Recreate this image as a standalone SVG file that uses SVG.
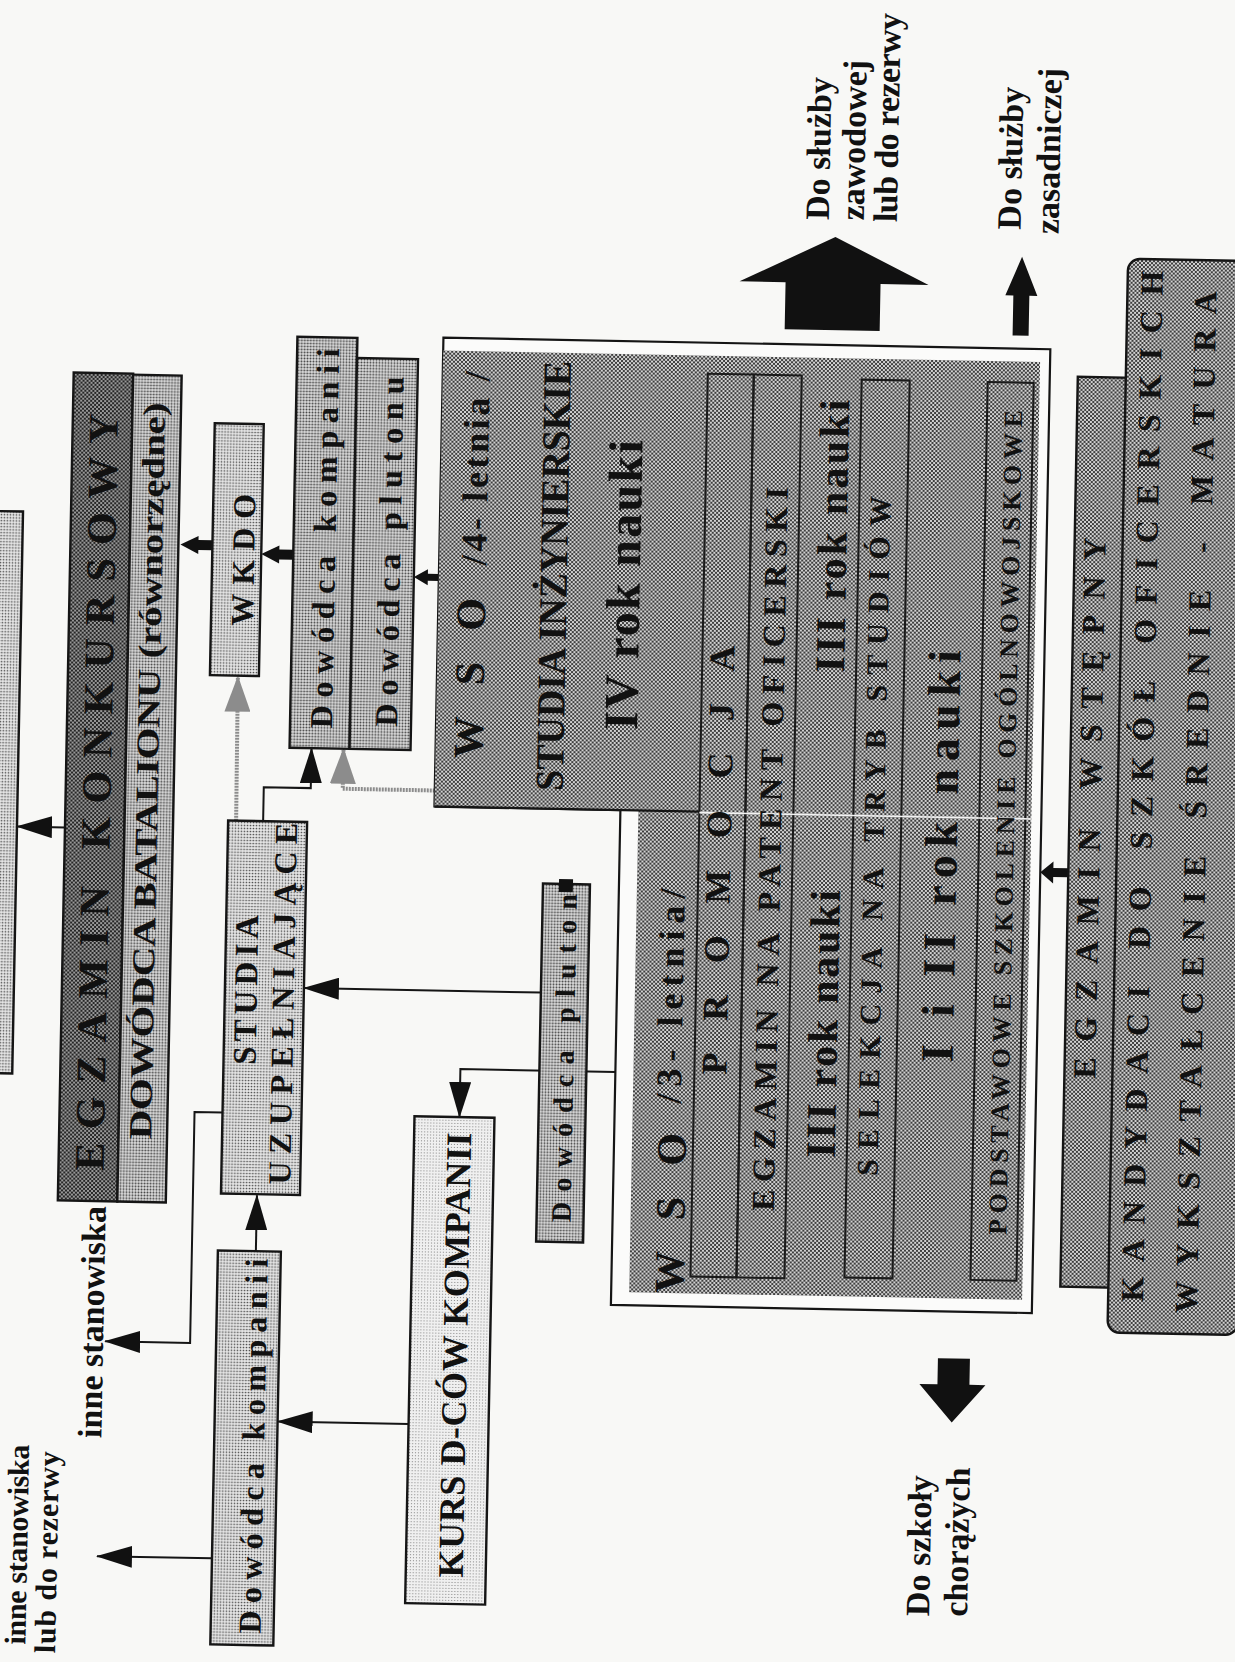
<svg xmlns="http://www.w3.org/2000/svg" width="1235" height="1662" viewBox="0 0 1235 1662">
<style>
  text { font-family: "Liberation Serif", "Times New Roman", serif; font-weight: bold; fill: #111; }
  .box { stroke: #151515; stroke-width: 2.4; }
  .line { fill: none; stroke: #151515; stroke-width: 2; }
  .gline { fill: none; stroke: #8c8c8c; stroke-width: 4; stroke-dasharray: 2 1; }
  .solid { fill: #111; }
  .inner { fill: none; stroke: #1a1a1a; stroke-width: 2; }
</style>
<defs>
  <!-- halftone-like fills -->
  <pattern id="htDark" width="4" height="4" patternUnits="userSpaceOnUse">
    <rect width="4" height="4" fill="#989898"/>
    <rect width="2" height="2" fill="#262626"/>
    <rect x="2" y="2" width="2" height="2" fill="#262626"/>
  </pattern>
  <pattern id="htMid" width="4" height="4" patternUnits="userSpaceOnUse">
    <rect width="4" height="4" fill="#d2d2d2"/>
    <rect width="2" height="2" fill="#3e3e3e"/>
    <rect x="2" y="2" width="2" height="2" fill="#3e3e3e"/>
  </pattern>
  <pattern id="htSemi" width="3" height="3" patternUnits="userSpaceOnUse">
    <rect width="3" height="3" fill="#dedede"/>
    <circle cx="1.5" cy="1.5" r="1" fill="#444"/>
  </pattern>
  <pattern id="htLight" width="3" height="3" patternUnits="userSpaceOnUse">
    <rect width="3" height="3" fill="#e6e6e6"/>
    <circle cx="1.5" cy="1.5" r="0.85" fill="#4a4a4a"/>
  </pattern>
  <pattern id="htPale" width="3" height="3" patternUnits="userSpaceOnUse">
    <rect width="3" height="3" fill="#f0f0f0"/>
    <circle cx="1.5" cy="1.5" r="0.6" fill="#777"/>
  </pattern>
  <marker id="ah" markerUnits="userSpaceOnUse" markerWidth="36" markerHeight="22" refX="35" refY="11" orient="auto">
    <path d="M0,0 L36,11 L0,22 z" fill="#111"/>
  </marker>
  <marker id="ahGray" markerUnits="userSpaceOnUse" markerWidth="36" markerHeight="26" refX="35" refY="13" orient="auto">
    <path d="M0,0 L36,13 L0,26 z" fill="#8c8c8c"/>
  </marker>
</defs>

<rect width="1235" height="1662" fill="#f8f8f6"/>

<g id="sheet" transform="rotate(1.1 617 831)">

  <!-- connectors -->
  <g id="connectors">
    <polyline class="line" points="65,838 17,838" marker-end="url(#ah)"/>
    <polyline class="gline" points="236,828 235,684" marker-end="url(#ahGray)"/>
    <polyline class="line" points="263,828 263,794 310,794 310,754" marker-end="url(#ah)"/>
    <polyline class="gline" points="434,794 342,794 342,754" marker-end="url(#ahGray)"/>
    <polyline class="line" points="544,994 307,994" marker-end="url(#ah)"/>
    <polyline class="line" points="620,1072 465,1072 465,1120" marker-end="url(#ah)"/>
    <polyline class="line" points="228,1120 200,1120 200,1351 115,1351" marker-end="url(#ah)"/>
    <polyline class="line" points="264,1258 264,1202" marker-end="url(#ah)"/>
    <polyline class="line" points="420,1428 289,1428" marker-end="url(#ah)"/>
    <polyline class="line" points="226,1566 111,1566" marker-end="url(#ah)"/>
    <!-- short block arrows -->
    <polygon class="solid" points="175,553 193,544 193,548 207,548 207,558 193,558 193,562"/>
    <polygon class="solid" points="256,561 274,552 274,556 288,556 288,566 274,566 274,570"/>
    <polygon class="solid" points="409,581 423,573 423,577.5 434,577.5 434,584.5 423,584.5 423,589"/>
    <polygon class="solid" points="1041,864 1054,853 1054,859.5 1069,859.5 1069,868.5 1054,868.5 1054,875"/>
    <!-- exits -->
    <polygon class="solid" points="824,233 918,279 870,279 870,326 775,326 775,279 729,279"/>
    <polygon class="solid" points="1011,249 1027,288 1019,288 1019,328 1003,328 1003,288 995,288"/>
    <polygon class="solid" points="963,1416 996,1378 980,1378 980,1352 948,1352 948,1378 930,1378"/>
  </g>

  <!-- academy box cut by the page edge -->
  <g id="node-akademia">
    <rect class="box" x="-60" y="523" width="77" height="562" fill="url(#htLight)"/>
  </g>

  <g id="node-egzamin-konkursowy">
    <rect class="box" x="65" y="383" width="59.5" height="828" fill="url(#htDark)"/>
    <text x="110" y="802" transform="rotate(-90 110 802)" text-anchor="middle" font-size="42" textLength="757" lengthAdjust="spacing">EGZAMIN KONKURSOWY</text>
  </g>

  <g id="node-dowodca-batalionu">
    <rect class="box" x="124.5" y="384" width="48.5" height="827" fill="url(#htSemi)"/>
    <text x="157" y="780" transform="rotate(-90 157 780)" text-anchor="middle" font-size="32" textLength="737" lengthAdjust="spacingAndGlyphs">DOWÓDCA BATALIONU (równorzędne)</text>
  </g>

  <g id="node-wkdo">
    <rect class="box" x="207" y="431" width="49" height="252" fill="url(#htLight)"/>
    <text x="249" y="567" transform="rotate(-90 249 567)" text-anchor="middle" font-size="32" textLength="132" lengthAdjust="spacing">WKDO</text>
  </g>

  <g id="node-dowodca-kompanii-1">
    <rect class="box" x="288" y="343" width="60" height="411" fill="url(#htSemi)"/>
    <text x="330" y="544" transform="rotate(-90 330 544)" text-anchor="middle" font-size="32" textLength="380" lengthAdjust="spacing">Dowódca kompanii</text>
  </g>

  <g id="node-dowodca-plutonu-1">
    <rect class="box" x="348" y="363" width="61" height="391" fill="url(#htSemi)"/>
    <text x="395" y="556" transform="rotate(-90 395 556)" text-anchor="middle" font-size="32" textLength="350" lengthAdjust="spacing">Dowódca plutonu</text>
  </g>

  <g id="node-wso">
    <polygon points="434,341 1041,341 1041,1305 620,1305 620,810 434,810" fill="#fbfbfa" stroke="#151515" stroke-width="2.2"/>
    <rect x="434" y="354" width="597" height="456" fill="url(#htMid)"/>
    <rect x="638" y="810" width="393" height="482" fill="url(#htMid)"/>
    <line x1="434" y1="810" x2="699" y2="810" stroke="#151515" stroke-width="2.4"/>
    <rect class="inner" x="699" y="372" width="46" height="903"/>
    <rect class="inner" x="745" y="372" width="48" height="903"/>
    <rect class="inner" x="853" y="375" width="48" height="898"/>
    <rect class="inner" x="979" y="375" width="46" height="898"/>
    <line x1="699" y1="811" x2="1031" y2="811" stroke="#f4f4f4" stroke-width="1.6"/>

    <text x="481" y="681" transform="rotate(-90 481 681)" text-anchor="middle" font-size="42" textLength="160" lengthAdjust="spacing">WSO</text>
    <text x="481" y="471" transform="rotate(-90 481 471)" text-anchor="middle" font-size="36" textLength="194" lengthAdjust="spacing">/4- letnia /</text>
    <text x="562" y="577" transform="rotate(-90 562 577)" text-anchor="middle" font-size="40" textLength="430" lengthAdjust="spacingAndGlyphs">STUDIA INŻYNIERSKIE</text>
    <text x="635" y="585" transform="rotate(-90 635 585)" text-anchor="middle" font-size="48" textLength="290" lengthAdjust="spacing">IV rok nauki</text>

    <text x="692" y="1212" transform="rotate(-90 692 1212)" text-anchor="middle" font-size="42" textLength="160" lengthAdjust="spacing">WSO</text>
    <text x="686" y="995" transform="rotate(-90 686 995)" text-anchor="middle" font-size="36" textLength="215" lengthAdjust="spacing">/3- letnia/</text>

    <text x="731" y="858" transform="rotate(-90 731 858)" text-anchor="middle" font-size="36" textLength="429" lengthAdjust="spacing">PROMOCJA</text>
    <text x="781" y="846" transform="rotate(-90 781 846)" text-anchor="middle" font-size="32" textLength="724" lengthAdjust="spacing">EGZAMIN NA PATENT OFICERSKI</text>
    <text x="841" y="532" transform="rotate(-90 841 532)" text-anchor="middle" font-size="42" textLength="273" lengthAdjust="spacing">III rok nauki</text>
    <text x="841" y="1020" transform="rotate(-90 841 1020)" text-anchor="middle" font-size="42" textLength="268" lengthAdjust="spacing">III rok nauki</text>
    <text x="884" y="831" transform="rotate(-90 884 831)" text-anchor="middle" font-size="30" textLength="680" lengthAdjust="spacing">SELEKCJA NA TRYB STUDIÓW</text>
    <text x="957" y="850" transform="rotate(-90 957 850)" text-anchor="middle" font-size="46" textLength="412" lengthAdjust="spacing">I i II rok nauki</text>
    <text x="1014" y="815" transform="rotate(-90 1014 815)" text-anchor="middle" font-size="26" textLength="825" lengthAdjust="spacing">PODSTAWOWE SZKOLENIE OGÓLNOWOJSKOWE</text>
  </g>

  <g id="node-studia">
    <rect class="box" x="228" y="828" width="79" height="373" fill="url(#htLight)"/>
    <text x="260" y="997" transform="rotate(-90 260 997)" text-anchor="middle" font-size="33" textLength="150" lengthAdjust="spacing">STUDIA</text>
    <text x="297" y="1010" transform="rotate(-90 297 1010)" text-anchor="middle" font-size="32" textLength="362" lengthAdjust="spacing">UZUPEŁNIAJĄCE</text>
  </g>

  <g id="node-dowodca-kompanii-2">
    <rect class="box" x="226" y="1258" width="63" height="394" fill="url(#htLight)"/>
    <text x="276" y="1453" transform="rotate(-90 276 1453)" text-anchor="middle" font-size="32" textLength="375" lengthAdjust="spacing">Dowódca kompanii</text>
  </g>

  <g id="node-kurs">
    <rect class="box" x="420" y="1120" width="80" height="487" fill="url(#htPale)"/>
    <text x="477" y="1358" transform="rotate(-90 477 1358)" text-anchor="middle" font-size="36" textLength="445" lengthAdjust="spacing">KURS D-CÓW KOMPANII</text>
  </g>

  <g id="node-dowodca-plutonu-2">
    <rect class="box" x="544" y="885" width="47" height="358" fill="url(#htSemi)"/>
    <rect x="560" y="880" width="14" height="13" fill="#111"/>
    <text x="578" y="1059" transform="rotate(-90 578 1059)" text-anchor="middle" font-size="28" textLength="328" lengthAdjust="spacing">Dowódca pluton</text>
  </g>

  <g id="node-egzamin-wstepny">
    <rect class="box" x="1069" y="368" width="56" height="910" fill="url(#htMid)"/>
    <text x="1100" y="799" transform="rotate(-90 1100 799)" text-anchor="middle" font-size="32" textLength="541" lengthAdjust="spacing">EGZAMIN WSTĘPNY</text>
  </g>

  <g id="node-kandydaci">
    <rect class="box" x="1117" y="249" width="130" height="1074" rx="12" fill="url(#htMid)"/>
    <text x="1152" y="776" transform="rotate(-90 1152 776)" text-anchor="middle" font-size="32" textLength="1031" lengthAdjust="spacing">KANDYDACI DO SZKÓŁ OFICERSKICH</text>
    <text x="1206" y="791" transform="rotate(-90 1206 791)" text-anchor="middle" font-size="32" textLength="1022" lengthAdjust="spacing">WYKSZTAŁCENIE ŚREDNIE - MATURA</text>
  </g>

  <!-- exit labels -->
  <g id="labels">
    <text x="41" y="1556" transform="rotate(-90 41 1556)" text-anchor="middle" font-size="30" textLength="200" lengthAdjust="spacing">inne stanowiska</text>
    <text x="71" y="1563" transform="rotate(-90 71 1563)" text-anchor="middle" font-size="30" textLength="202" lengthAdjust="spacing">lub do rezerwy</text>
    <text x="113" y="1332" transform="rotate(-90 113 1332)" text-anchor="middle" font-size="34" textLength="232" lengthAdjust="spacing">inne stanowiska</text>
    <text x="817" y="216" transform="rotate(-90 817 216)" font-size="34">Do służby</text>
    <text x="852" y="216" transform="rotate(-90 852 216)" font-size="34">zawodowej</text>
    <text x="885" y="217" transform="rotate(-90 885 217)" font-size="34" textLength="209" lengthAdjust="spacing">lub do rezerwy</text>
    <text x="1009" y="222" transform="rotate(-90 1009 222)" font-size="34">Do służby</text>
    <text x="1047" y="226" transform="rotate(-90 1047 226)" font-size="34">zasadniczej</text>
    <text x="944" y="1610" transform="rotate(-90 944 1610)" font-size="34">Do szkoły</text>
    <text x="982" y="1610" transform="rotate(-90 982 1610)" font-size="34">chorążych</text>
  </g>
</g>
</svg>
